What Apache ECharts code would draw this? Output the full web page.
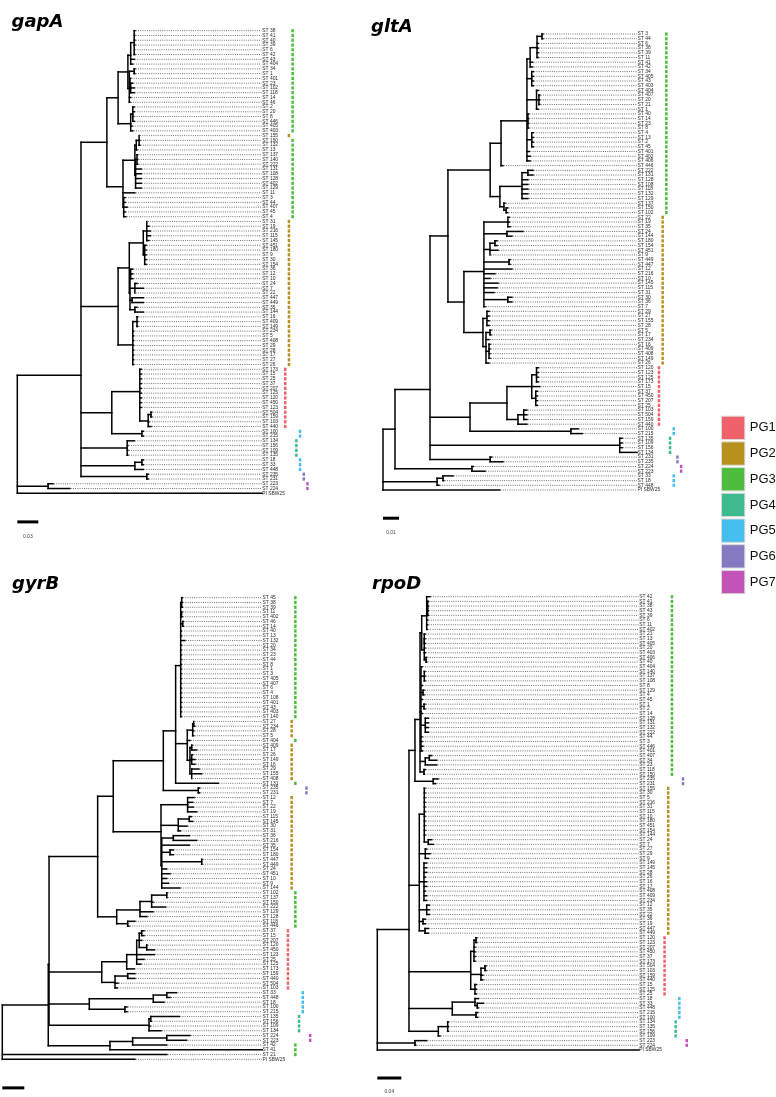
<!DOCTYPE html>
<html><head><meta charset="utf-8">
<script src="https://cdn.jsdelivr.net/npm/echarts@6/dist/echarts.min.js"></script>
<style>html,body{margin:0;padding:0;background:#fff}#c{width:776px;height:1097px}</style>
</head><body><div id="c"></div>
<script>
// ---------------- DATA ----------------
const groupNames = ['PG1','PG2','PG3','PG4','PG5','PG6','PG7'];
const groupColors = ['#F0626B','#B8901E','#4DBD3B','#3DBB8E','#45BEEE','#8579C3','#C453B9'];

// Trees: leaves are row indices; the number after ':' is the node's distance from the root (x 0.001 subst./site)
const gapA_tree = "(((((((0:168,1:168,2:168,3:168,4:167,5:168):167,6:167,7:165):162,((8:168,9:168):167,(10:162,(11:165,12:167,13:167):162):161,14:162,15:161):160):158,((16:167,17:167,18:166,19:167):165,20:164,21:165):162):144,((((22:174,23:175,24:175):174,25:171):170,((26:172,27:172,28:172):171,29:177,30:177,31:177,32:177,33:177):169):168,34:168,(35:154,36:154,37:157,38:154,39:155):152):151):128,((((40:185,41:188,42:190,43:190,44:188):185,(45:184,46:184,47:184,48:184,49:184):182):180,((50:165,51:165,52:165):162,(53:171,54:180,55:168):168,(56:180,57:180):164,(58:171,59:180):168):161):160,((60:172,61:172,62:172):171,63:166,64:166,65:166,66:166,67:166,68:166,69:166,70:166):165):144,((71:177,72:177,73:177,74:177,75:177,76:177,77:177,78:177,79:177,((80:192,81:192):191,82:188,83:191):187):175,(84:180,85:180):178):135,(86:167,87:158,88:158,89:158):157,((90:180,91:180):178,92:180):168,(93:187,94:187):185):91,(95:51,96:75):44,97:351):0";
const gapA_labels = ["ST 38","ST 41","ST 40","ST 39","ST 6","ST 42","ST 43","ST 404","ST 34","ST 1",
 "ST 401","ST 23","ST 102","ST 118","ST 14","ST 46","ST 2","ST 20","ST 8","ST 446",
 "ST 405","ST 403","ST 155","ST 150","ST 132","ST 13","ST 137","ST 140","ST 222","ST 131",
 "ST 108","ST 128","ST 402","ST 129","ST 11","ST 3","ST 44","ST 407","ST 45","ST 4",
 "ST 31","ST 19","ST 216","ST 115","ST 145","ST 451","ST 180","ST 9","ST 30","ST 154",
 "ST 36","ST 12","ST 10","ST 24","ST 7","ST 22","ST 447","ST 449","ST 35","ST 144",
 "ST 16","ST 409","ST 149","ST 234","ST 5","ST 408","ST 29","ST 28","ST 17","ST 27",
 "ST 26","ST 173","ST 15","ST 25","ST 37","ST 207","ST 125","ST 120","ST 450","ST 123",
 "ST 504","ST 159","ST 103","ST 440","ST 100","ST 215","ST 134","ST 156","ST 109","ST 135",
 "ST 18","ST 33","ST 448","ST 235","ST 231","ST 223","ST 224","PI SBW25"];
const gapA_groups = ("3333333333"+"3333333333"+"33"+"2"+"3333333333"+"3333333"+"2222222222"+"2222222222"+"2222222222"+"2"+"1111111111"+"111"+"55"+"4444"+"555"+"66"+"77"+"0").split('').map(Number);

const gltA_tree = "((((((((((0:100,1:100):99.4,2:97,3:97,4:97,5:97):96.3,6:93.5,7:93.5):92,(8:94,9:94,10:94,11:94):93,(12:97,(13:98,14:98,15:98):97.5,16:97):96,(17:91,18:91,19:91,20:91):90.6,(21:94,22:94,23:94,24:94):93,25:91.5,26:92,27:92):90,28:75):73.8,(((29:93.8,30:93.8):90.6,31:90.6,32:90.6,33:90.6,34:90.6,35:90.6):86.9,(36:76.3,(37:78,38:78):77):75.6):73.1):67,(((39:79,40:79,41:79.4):78.1,(42:87.5,43:80.6):77.5,((44:71.3,45:71.3):70,46:71.9,47:66.9):66.9,(48:79.4,49:79.4):78.8,50:80.6,51:70,52:66.9,53:71.9,54:71.3,55:69.4,(56:80.6,57:80.6):78,58:63.8):63.1,((59:66.3,60:66.3,61:66.3,62:66.3):65,((63:67.5,64:67.5):66.9,65:66.3,(66:66.9,67:66.9,68:66.9,69:66.9):66.3,70:66.3):64.4):62.5):50.6):40.6,((((71:97,72:97,73:97,74:97):96,75:98,(76:96.5,77:96.5,78:96.5,79:96.5):95.5):93,((80:90,81:90,82:90):88,83:90):84.4):77.5,(84:122,85:124.5):117.5):54.4,(86:149.5,87:149.5,88:149.5,89:158.8):148,(90:68,91:75):67):29.4,(92:56.5,93:63.8):55.6):7.5,((94:43.8,95:38):37.5,96:35):33.8,97:73):0";
const gltA_labels = ["ST 3","ST 44","ST 6","ST 38","ST 39","ST 11","ST 41","ST 42","ST 34","ST 405",
 "ST 43","ST 403","ST 404","ST 407","ST 20","ST 21","ST 1","ST 40","ST 14","ST 23",
 "ST 8","ST 4","ST 13","ST 2","ST 45","ST 401","ST 402","ST 406","ST 446","ST 222",
 "ST 131","ST 128","ST 108","ST 118","ST 132","ST 129","ST 137","ST 150","ST 102","ST 22",
 "ST 19","ST 35","ST 24","ST 144","ST 180","ST 154","ST 451","ST 9","ST 449","ST 447",
 "ST 12","ST 216","ST 10","ST 145","ST 115","ST 31","ST 30","ST 36","ST 7","ST 29",
 "ST 27","ST 155","ST 28","ST 5","ST 17","ST 234","ST 16","ST 409","ST 408","ST 149",
 "ST 26","ST 120","ST 123","ST 125","ST 173","ST 15","ST 37","ST 450","ST 207","ST 25",
 "ST 103","ST 504","ST 159","ST 440","ST 100","ST 215","ST 135","ST 109","ST 156","ST 134",
 "ST 231","ST 235","ST 224","ST 223","ST 33","ST 18","ST 448","PI SBW25"];
const gltA_groups = ("3333333333"+"3333333333"+"3333333333"+"333333333"+"2222222222"+"2222222222"+"2222222222"+"22"+"1111111111"+"111"+"55"+"4444"+"66"+"77"+"555"+"0").split('').map(Number);

const gyrB_tree = "(((((((((0:163.6,1:163.6,2:163.6):163.1,(3:163.4,4:163.4):162.9,(5:164.5,6:164.5):164,7:162.6,8:162.6,9:166,10:162.6,11:162.6,12:162.6,13:162.6,14:162.6,15:162.6,16:162.6,17:162.6,18:162.6,19:162.6,20:162.6,21:162.6,22:162.6,23:162.6,24:162.6,25:162.6):162.2,(((26:174,27:175):174,28:174,29:174):173.1,30:170.6,((31:172.5,32:176.7):172.2,(33:173,34:175.2,35:175.2):172.2,(36:178.8,37:181.3,38:172.2):172.2):170.6):168.2,39:196.3):157.6,(40:179.4,41:179.4):178.2):146.4,((42:174.3,43:173.1,44:173.6,45:176.7):168.5,((46:172,47:173.1):170,48:168,49:162):160,((50:170,51:176.7):155.5,52:170,(53:155.5,54:155.5):152.5,(55:181.5,56:181.5):181.3,57:149.5,58:152.5,59:149.5,60:151,61:161.5):145):144.3):100.9,((((62:149.7,63:149.7):149.5,64:137,65:148.5):135.8,66:137,67:131.5):125.2,(68:120.6,69:115.2):114):104):86.7,(((((70:128.8,71:128.8):126.7,72:126.7,(73:131.5,74:138.2):131.3):124.5,75:138.2,76:128.8,77:126):122.2,78:120):113.1,((79:120.6,80:120.6):114,81:105.2,82:104.5):102.5):90.4,(((83:158.5,84:152.5):149.5,85:147):137.3,(86:113.4,87:113.4):111.5):79.1,((88:161,89:135.5):134.9,90:134.3,91:144.3):133.4):42.5,(((92:170.6,93:167.6):149.5,94:149.5):118.5,95:237):97.9):41.8,96:149.7,97:120.6):0";
const gyrB_labels = ["ST 45","ST 38","ST 39","ST 11","ST 402","ST 46","ST 14","ST 40","ST 13","ST 132",
 "ST 20","ST 34","ST 23","ST 44","ST 8","ST 1","ST 3","ST 405","ST 407","ST 6",
 "ST 4","ST 108","ST 401","ST 43","ST 403","ST 140","ST 27","ST 234","ST 28","ST 5",
 "ST 404","ST 409","ST 17","ST 26","ST 149","ST 16","ST 29","ST 155","ST 408","ST 131",
 "ST 235","ST 231","ST 12","ST 7","ST 22","ST 19","ST 115","ST 145","ST 30","ST 31",
 "ST 36","ST 216","ST 35","ST 154","ST 180","ST 447","ST 449","ST 24","ST 451","ST 10",
 "ST 9","ST 144","ST 102","ST 137","ST 150","ST 222","ST 129","ST 128","ST 118","ST 446",
 "ST 37","ST 15","ST 207","ST 120","ST 450","ST 123","ST 25","ST 125","ST 173","ST 159",
 "ST 440","ST 504","ST 103","ST 33","ST 448","ST 18","ST 100","ST 215","ST 135","ST 156",
 "ST 109","ST 134","ST 224","ST 223","ST 42","ST 41","ST 21","PI SBW25"];
const gyrB_groups = ("3333333333"+"3333333333"+"333333"+"2222"+"3"+"22222222"+"3"+"66"+"2222222222"+"2222222222"+"33333333"+"1111111111"+"111"+"55555"+"4444"+"77"+"333"+"0").split('').map(Number);

const rpoD_tree = "((((((0:87.8,(1:85,2:85,3:85,4:85):84,5:84,6:84,7:83):82.3,((8:79.5,9:79.5,10:80):78.3,11:79.5,12:80,(13:82.3,14:82.3):81.2):78.3):74,(15:74.5,(16:79.5,17:79.5,18:79.5):78.3,19:75,(20:77.8,21:77.8):76.2,22:75,(23:79.5,24:79.5):77.8,25:75,(26:85,27:85,28:85,29:85):80,30:74.5,31:74.5,32:76.2,33:75.3):72.8,((34:90.7,35:99):86.7,36:99):80,(37:80,38:78.3):77.8):71.2,(39:101.2,40:97.3):93.3):62.8,((41:79.5,42:79.5,43:79.5,44:79.5,45:79.5,46:79.5,47:79.5,48:79.5,49:79.5,50:79.5,51:79.5,(52:90.7,53:93.3):85):78.3,(54:82.3,55:87.8,56:85):80,(57:82.3,58:82.3,59:82.3,60:80,61:82.3,62:82.3,63:80,64:82.3,65:82.3):77.8,(66:86.7,67:86.7,68:86.7):82.3,(69:80,70:80):76.2,(71:85,72:85):79.5):70,(((73:165.7,74:165.7):164.5,75:163,76:163,77:163,78:163):161.2,((79:181.2,80:181.2):179.5,81:176,82:176):172.8,(83:165,84:165,85:165):162.8):155.7,((86:168.3,(87:176.7,88:168):166.7):162.8,(89:167.3,90:167.3):164.5):125,((91:118.3,92:118.3,93:118.3):117.3,94:104.5):101.7):52.8,(95:82.3,96:64):62.8,97:437.8):0";
const rpoD_labels = ["ST 42","ST 41","ST 38","ST 43","ST 39","ST 6","ST 11","ST 402","ST 21","ST 13",
 "ST 405","ST 20","ST 403","ST 406","ST 40","ST 404","ST 140","ST 137","ST 108","ST 8",
 "ST 129","ST 4","ST 45","ST 1","ST 2","ST 14","ST 128","ST 131","ST 132","ST 222",
 "ST 44","ST 3","ST 446","ST 401","ST 407","ST 34","ST 23","ST 118","ST 150","ST 235",
 "ST 231","ST 155","ST 30","ST 5","ST 216","ST 31","ST 115","ST 10","ST 180","ST 451",
 "ST 154","ST 144","ST 24","ST 7","ST 27","ST 29","ST 9","ST 149","ST 145","ST 28",
 "ST 26","ST 16","ST 17","ST 408","ST 409","ST 234","ST 12","ST 35","ST 22","ST 36",
 "ST 19","ST 447","ST 449","ST 120","ST 123","ST 207","ST 450","ST 37","ST 173","ST 504",
 "ST 103","ST 159","ST 440","ST 15","ST 125","ST 25","ST 18","ST 33","ST 448","ST 215",
 "ST 100","ST 134","ST 135","ST 156","ST 109","ST 223","ST 224","PI SBW25"];
const rpoD_groups = ("3333333333"+"3333333333"+"3333333333"+"333333333"+"66"+"2222222222"+"2222222222"+"2222222222"+"22"+"1111111111"+"111"+"55555"+"4444"+"77"+"0").split('').map(Number);

const geneNames = ['gapA','gltA','gyrB','rpoD'];
const scaleBars = [0.03, 0.01, 0.02, 0.04];
const scaleBarTexts = ['0.03','0.01','','0.04'];

// ---------------- LAYOUT (pixels) ----------------
const layouts = [
  {rootX:17.3, labelX:262.0, top:30.7, rowH:4.769, xMax:349.6, sqOff:22.0, titleX:11.5, titleY:13.5},
  {rootX:383,  labelX:637.3, top:34.0, rowH:4.701, xMax:159.0, sqOff:20.4, titleX:371, titleY:18.5},
  {rootX:2.3,  labelX:262.3, top:597.7, rowH:4.759, xMax:236.4, sqOff:24.4, titleX:12, titleY:575.5},
  {rootX:377.3,labelX:639.0, top:596.7, rowH:4.673, xMax:436.2, sqOff:24.3, titleX:372, titleY:575}
];
const trees = [gapA_tree, gltA_tree, gyrB_tree, rpoD_tree];
const labelSets = [gapA_labels, gltA_labels, gyrB_labels, rpoD_labels];
const groupSets = [gapA_groups, gltA_groups, gyrB_groups, rpoD_groups];

// ---------------- helpers ----------------
function parseTree(s) {
  s = s.replace(/\s+/g, '');
  let i = 0;
  function num() { const j = i; while (i < s.length && /[0-9.]/.test(s[i])) i++; return parseFloat(s.slice(j, i)); }
  function node() {
    const n = {children: []};
    if (s[i] === '(') {
      i++; n.children.push(node());
      while (s[i] === ',') { i++; n.children.push(node()); }
      if (s[i] !== ')') throw new Error('parse error at ' + i);
      i++;
    } else n.leaf = num();
    if (s[i] === ':') { i++; n.d = num(); } else n.d = 0;
    return n;
  }
  const r = node();
  if (i !== s.length) throw new Error('trailing text at ' + i);
  return r;
}

function buildItems(pi) {
  const L = layouts[pi], root = parseTree(trees[pi]);
  const order = [];
  (function setY(n) {
    if (n.children.length) { n.children.forEach(setY); n.y = n.children.reduce((a, c) => a + c.y, 0) / n.children.length; }
    else { n.y = n.leaf; order.push(n.leaf); }
  })(root);
  order.forEach((v, k) => { if (v !== k) throw new Error(geneNames[pi] + ' leaf order ' + k + ' ' + v); });
  if (order.length !== labelSets[pi].length || order.length !== groupSets[pi].length)
    throw new Error(geneNames[pi] + ' sizes ' + order.length + ' ' + labelSets[pi].length + ' ' + groupSets[pi].length);
  const items = [];
  (function walk(n, pd) {
    if (pd !== null) { if (n.d < pd) throw new Error(geneNames[pi] + ' neg branch'); items.push([pd, n.y, Math.min(n.d, L.xMax), n.y, 0, 0]); }
    if (n.children.length) {
      const ys = n.children.map(c => c.y);
      items.push([n.d, Math.min(...ys), n.d, Math.max(...ys), 0, 0]);
      n.children.forEach(c => walk(c, n.d));
    } else {
      if (n.d < L.xMax - 0.5) items.push([n.d, n.y, L.xMax, n.y, 1, 0]);
      items.push([L.xMax, n.y, L.xMax, n.y, 2, n.leaf]);
      const g = groupSets[pi][n.leaf];
      if (g) items.push([L.xMax, n.y, L.xMax, n.y, 3, g]);
    }
  })(root, null);
  const bar = scaleBars[pi] * 1000;
  items.push([0, 103, bar, 103, 4, 0]);
  if (scaleBarTexts[pi]) items.push([bar / 2, 106, bar / 2, 106, 5, 0]);
  return items;
}

function makeRender(pi) {
  const L = layouts[pi];
  return function (params, api) {
    const k = api.value(4), idx = api.value(5);
    const a = api.coord([api.value(0), api.value(1)]);
    const b = api.coord([api.value(2), api.value(3)]);
    if (k === 0) return {type: 'line', shape: {x1: a[0], y1: a[1], x2: b[0], y2: b[1]}, style: {stroke: '#000', lineWidth: 1.5, lineCap: 'square'}};
    if (k === 1) return {type: 'line', shape: {x1: a[0] + 1, y1: a[1], x2: b[0] - 0.4, y2: b[1]}, style: {stroke: '#333', lineWidth: 0.75, lineDash: [0.9, 1.3]}};
    if (k === 2) return {type: 'text', x: a[0] + 0.3, y: a[1], style: {text: labelSets[pi][idx], fontSize: 4.9, fontFamily: 'Liberation Sans', fill: '#2a2a2a', align: 'left', verticalAlign: 'middle'}};
    if (k === 3) return {type: 'rect', shape: {x: a[0] + L.sqOff + (idx - 1) * 3.7, y: a[1] - L.rowH * 0.34, width: 2.5, height: L.rowH * 0.68}, style: {fill: groupColors[idx - 1]}};
    if (k === 4) return {type: 'line', shape: {x1: a[0], y1: a[1], x2: b[0], y2: b[1]}, style: {stroke: '#000', lineWidth: 3}};
    if (k === 5) return {type: 'text', x: a[0], y: a[1], style: {text: scaleBarTexts[pi], fontSize: 5, fontFamily: 'Liberation Sans', fill: '#444', align: 'center', verticalAlign: 'middle'}};
    return null;
  };
}

// ---------------- chart ----------------
const chart = echarts.init(document.getElementById('c'), null, {renderer: 'canvas'});
const grids = [], xAxes = [], yAxes = [], series = [], titles = [];
layouts.forEach((L, pi) => {
  grids.push({left: L.rootX, top: L.top, width: L.labelX - L.rootX, height: L.rowH * 97, containLabel: false});
  xAxes.push({type: 'value', gridIndex: pi, min: 0, max: L.xMax, show: false});
  yAxes.push({type: 'value', gridIndex: pi, min: 0, max: 97, inverse: true, show: false});
  series.push({type: 'custom', xAxisIndex: pi, yAxisIndex: pi, clip: false, silent: true,
    renderItem: makeRender(pi), data: buildItems(pi), animation: false});
  titles.push({text: geneNames[pi], left: L.titleX, top: L.titleY, padding: 0,
    textStyle: {fontFamily: 'DejaVu Sans', fontStyle: 'italic', fontWeight: 'bold', fontSize: 18, color: '#000'}});
});
groupNames.forEach((g, i) => series.push({type: 'scatter', name: g, data: [], xAxisIndex: 0, yAxisIndex: 0,
  itemStyle: {color: groupColors[i], opacity: 1}}));

chart.setOption({
  animation: false,
  backgroundColor: '#fff',
  title: titles,
  grid: grids, xAxis: xAxes, yAxis: yAxes,
  legend: {data: groupNames.map(n => ({name: n, icon: 'rect', itemStyle: {opacity: 1}})), orient: 'vertical', left: 721, top: 415.7, padding: 0,
    itemWidth: 23.3, itemHeight: 23.3, itemGap: 1.4, selectedMode: false,
    itemStyle: {borderColor: '#d8d8d8', borderWidth: 1, opacity: 1},
    textStyle: {fontSize: 13, fontFamily: 'Liberation Sans Narrow, Liberation Sans, Arial', color: '#111'}},
  series: series
});
</script></body></html>
